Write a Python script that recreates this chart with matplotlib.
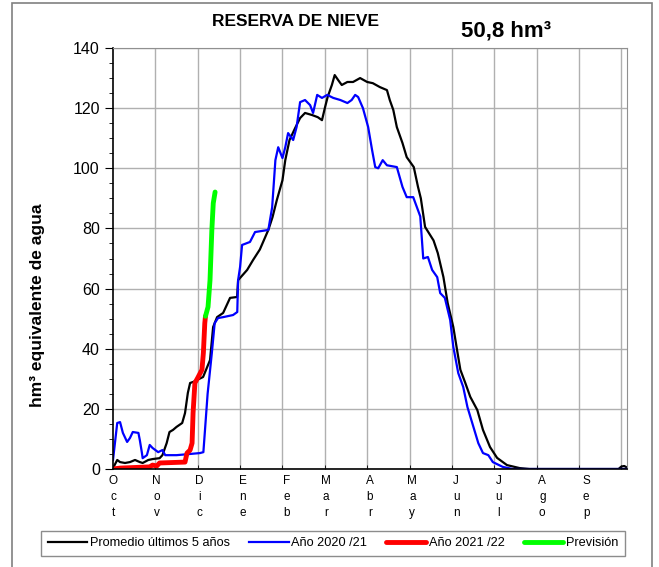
import numpy as np
import matplotlib
matplotlib.use('Agg')
import matplotlib.pyplot as plt
from matplotlib.patches import Rectangle

plt.rcParams['font.family'] = ['Liberation Sans', 'DejaVu Sans']

# dias desde el 1 de octubre
prom_dias = [0, 3, 5, 8.5, 12, 15.6, 19, 21, 25, 28, 33, 35, 38, 40, 42.5, 45, 49, 51, 53,
             54.6, 57, 59.5, 63.8, 68.7, 70.9, 73.7, 78, 82.9, 87.9, 88.6, 95, 99.2, 104,
             110, 113, 116, 120, 122, 125, 129, 132.5, 136, 141, 145, 148, 150, 152, 155,
             157, 159.5, 162, 166, 170, 175, 180, 184, 189, 194, 196, 198.5, 201, 205, 208,
             213, 216, 218, 221, 227, 230, 234, 237, 241, 244, 246, 249.5, 253, 258, 262,
             267, 272, 279, 288, 295, 358, 360, 362, 364]
prom_vals = [0.3, 3, 2.3, 2, 2.3, 3, 2.3, 2, 3, 3.3, 3.6, 4.6, 8.6, 12.3, 13, 14, 15.3, 18.6, 25.3,
             28.6, 29, 29.6, 30.6, 36.2, 47.2, 50.5, 51.9, 56.9, 57.2, 62.8, 66.2, 69.5, 73,
             79.5, 83.8, 89.4, 96, 102.7, 109.4, 113.4, 116.7, 118.4, 117.7, 117, 116, 120, 123.7, 127.7,
             131, 129.3, 127.7, 128.7, 128.7, 130, 128.7, 128.3, 127, 126, 122.7, 119.4, 113.7, 108.4, 103.7,
             100.4, 93.8, 90, 80.5, 76, 71.8, 63.8, 55.2, 47.2, 38.6, 33, 28.6, 24, 19.6, 13,
             7.3, 3.7, 1.3, 0.3, 0, 0, 0.8, 1, 0.5]

a2021_dias = [0, 3, 5, 7, 10, 12, 14, 18, 19, 20.5, 21, 24, 26, 28, 32, 35, 37, 45, 54.6, 61.6,
              64, 65, 67, 70, 72, 74.4, 78, 85, 88, 88.6, 90, 91.4, 97, 100.6, 110, 112.7, 115,
              117, 120, 122, 124, 127.6, 130, 132.5, 136, 139.6, 141.7, 144.6, 148, 151.7, 156,
              161, 166, 169, 171.5, 173.6, 177, 180.7, 183.5, 185.7, 187.8, 191, 194, 201, 205,
              208, 212.6, 217.6, 219.7, 223, 226, 229.6, 231.7, 235, 238.8, 241, 244.5, 248, 251,
              254.4, 258.7, 262, 265.8, 269, 276, 283, 364]
a2021_vals = [3, 15.3, 15.6, 12, 9, 10.3, 12.3, 12, 9.6, 5.3, 3.6, 4.6, 8, 7, 5.6, 6.3, 4.6, 4.6, 5, 5.3,
              5.6, 12, 25, 38.6, 48.5, 50.2, 50.5, 51.2, 52.2, 62.8, 67.2, 74.5, 75.5, 78.8, 79.5, 87, 102.7,
              107, 103.4, 107, 111.7, 109.4, 113.7, 122, 122.7, 121, 118.4, 124.4, 123.4, 124.4, 123.4,
              122.7, 121.7, 122.7, 124.4, 123.7, 120, 113.7, 106, 100.4, 100, 102.7, 101, 100.4, 93.8,
              90.4, 90.4, 84, 70, 70.5, 66.2, 63.8, 58.5, 56.9, 49.5, 40.6, 31.9, 27.3, 20.6,
              15.3, 8.6, 5.3, 4.6, 2.3, 0.7, 0, 0]

a2122_dias = [0, 5, 26, 28, 31, 33, 51, 52.4, 54.6, 56, 56.7, 58, 60, 63, 64, 65, 65.5]
a2122_vals = [0, 0.3, 0.7, 1.3, 1, 2, 2.3, 5.3, 6.3, 8.6, 18.6, 28.6, 30.3, 33, 38.6, 48.5, 50.8]

prev_dias = [65.5, 67.3, 68.7, 70, 71, 72.3]
prev_vals = [50.8, 53.9, 62.8, 79.5, 88.4, 92.1]

meses = ['Oct', 'Nov', 'Dic', 'Ene', 'Feb', 'Mar', 'Abr', 'May', 'Jun', 'Jul', 'Ago', 'Sep']
inicio_mes = [0, 31, 61, 92, 123, 151, 182, 212, 243, 273, 304, 335]

fig = plt.figure(figsize=(6.59, 5.67), dpi=100)
ax = fig.add_axes([113 / 659, 1 - 469 / 567, 514 / 659, 421 / 567])

ax.plot(prom_dias, prom_vals, color='black', lw=1.6, label='Promedio últimos 5 años')
ax.plot(a2021_dias, a2021_vals, color='#0000ff', lw=1.6, label='Año 2020 /21')
ax.plot(a2122_dias, a2122_vals, color='#ff0000', lw=3.5, label='Año 2021 /22',
        solid_capstyle='round')
ax.plot(prev_dias, prev_vals, color='#00ff00', lw=3.5, label='Previsión',
        solid_capstyle='round')

ax.set_xlim(0, 364)
ax.set_ylim(0, 140)
ax.set_yticks(np.arange(0, 141, 20))
ax.set_yticks(np.arange(0, 141, 5), minor=True)
ax.tick_params(axis='y', which='major', labelsize=11.5, length=6, direction='out')
ax.tick_params(axis='y', which='minor', length=3, direction='out')

ax.set_xticks(inicio_mes)
ax.set_xticklabels(['\n'.join(m) for m in meses], fontsize=8.5, linespacing=1.45)
ax.set_xticks(np.arange(30, 361, 30), minor=True)
ax.tick_params(axis='x', which='major', length=0, pad=4)
ax.tick_params(axis='x', which='minor', length=3, direction='in')

ax.grid(True, which='major', axis='y', color='#b0b0b0', lw=1)
ax.grid(True, which='minor', axis='x', color='#b0b0b0', lw=1)
ax.set_axisbelow(True)

for s in ['top', 'right']:
    ax.spines[s].set_color('#909090')
for s in ['left', 'bottom']:
    ax.spines[s].set_color('black')
    ax.spines[s].set_linewidth(1.2)

fig.text(38 / 659, 1 - 305 / 567, 'hm³ equivalente de agua', rotation=90,
         ha='center', va='center', fontsize=12.5, fontweight='bold')
fig.text(295 / 659, 1 - 22 / 567, 'RESERVA DE NIEVE', ha='center', va='center',
         fontsize=12.5, fontweight='bold')
fig.text(506 / 659, 1 - 31 / 567, '50,8 hm³', ha='center', va='center',
         fontsize=16, fontweight='bold')

leg = fig.legend(loc='center', bbox_to_anchor=(333 / 659, 1 - 543.5 / 567), ncol=4,
                 fontsize=9.2, frameon=True, fancybox=False, edgecolor='#707070',
                 handlelength=3.1, handletextpad=0.2, columnspacing=1.5,
                 borderpad=0.5, borderaxespad=0)
leg.get_frame().set_linewidth(1)

fig.patches.append(Rectangle((12 / 659, -0.05), 640 / 659, 1.05 - 3 / 567,
                             transform=fig.transFigure, fill=False,
                             edgecolor='#808080', lw=1.2))

fig.savefig('out.png', dpi=100)
